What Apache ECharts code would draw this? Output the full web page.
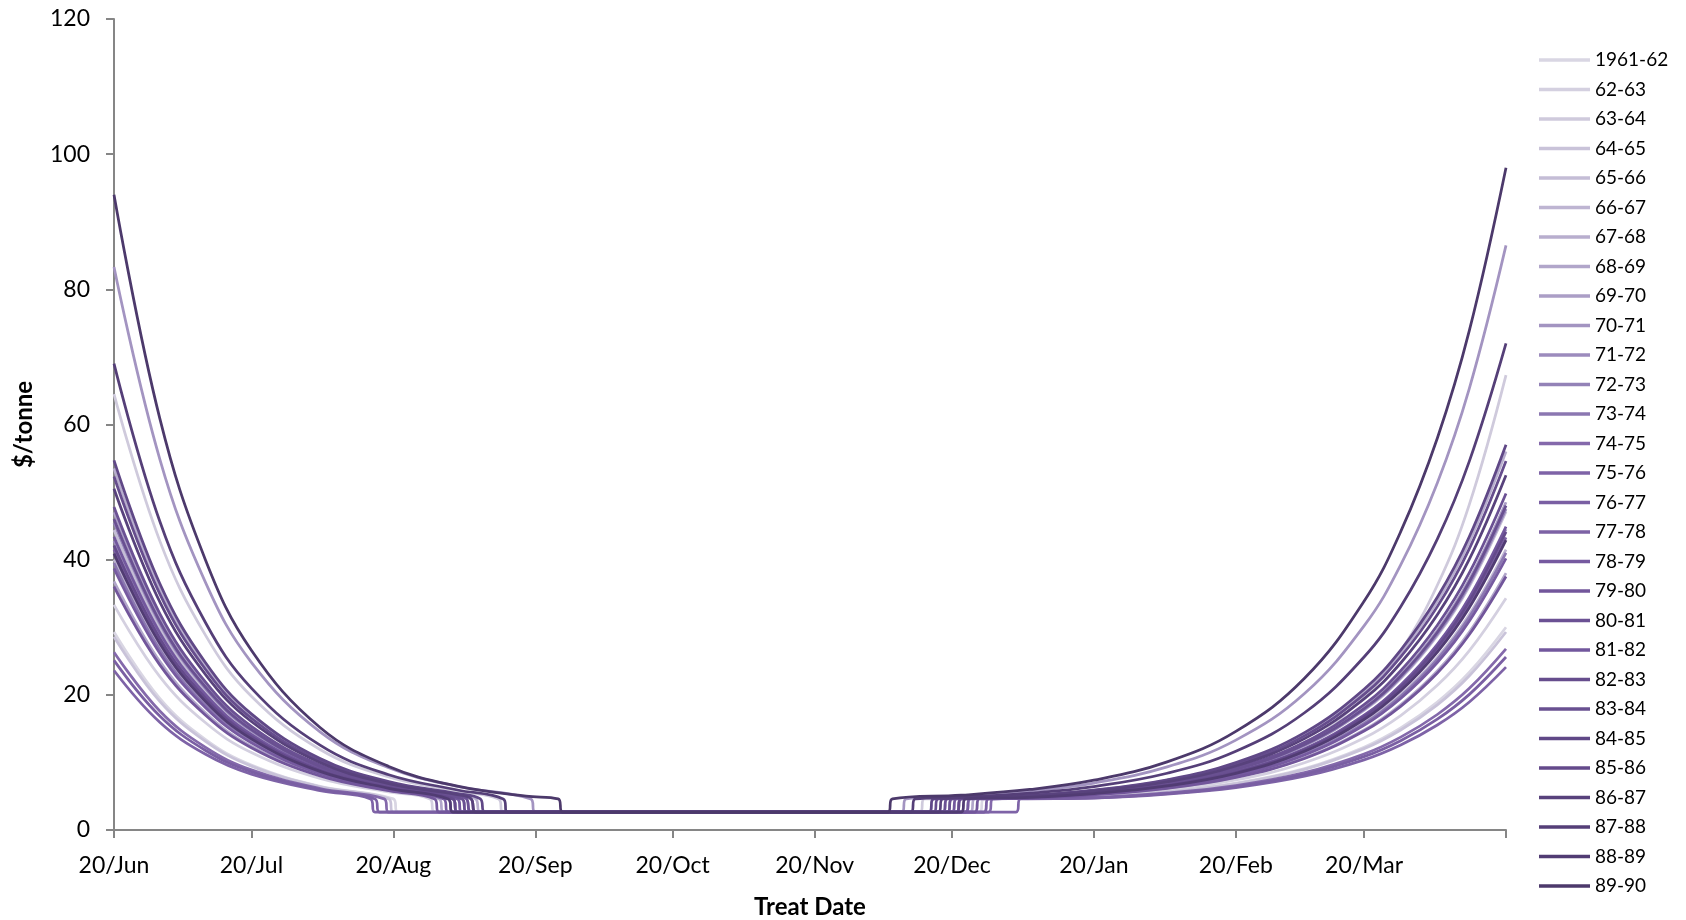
<!DOCTYPE html>
<html>
<head>
<meta charset="utf-8">
<script src="https://cdn.jsdelivr.net/npm/echarts@6/dist/echarts.min.js"></script>
<style>
html,body{margin:0;padding:0;background:#fff;}
#chart{width:1686px;height:920px;}
</style>
</head>
<body>
<div id="chart"></div>
<script>
// Season names (legend)
var seasons = ['1961-62','62-63','63-64','64-65','65-66','66-67','67-68','68-69','69-70','70-71','71-72','72-73','73-74','74-75','75-76','76-77','77-78','78-79','79-80','80-81','81-82','82-83','83-84','84-85','85-86','86-87','87-88','88-89','89-90'];

// X axis: days counted from 20/Jun, ticks on the 20th of each month
var tickDays = [0, 30, 61, 92, 122, 153, 183, 214, 245, 273, 304];
var tickLabels = ['20/Jun','20/Jul','20/Aug','20/Sep','20/Oct','20/Nov','20/Dec','20/Jan','20/Feb','20/Mar',''];

// Decline part (days after 20/Jun)
var leftDays = [0, 10, 20, 30, 45, 60, 75, 90];
var decayValues = [
  [29.3, 19.47, 13.38, 9.61, 6.47, null, null, null],
  [33.3, 22.69, 15.86, 11.46, 7.62, 5.63, null, null],
  [64.5, 42.78, 28.80, 19.79, 11.92, 7.86, 5.75, null],
  [28.6, 19.03, 13.11, 9.45, 6.39, null, null, null],
  [44.4, 29.84, 20.47, 14.42, 9.15, 6.42, null, null],
  [40.0, 27.01, 18.64, 13.25, 8.54, 6.11, null, null],
  [53.5, 35.70, 24.24, 16.86, 10.41, 7.07, 5.35, null],
  [36.8, 24.95, 17.31, 12.39, 8.10, 5.88, null, null],
  [47.0, 31.51, 21.54, 15.12, 9.51, 6.61, 5.11, null],
  [83.3, 54.89, 36.60, 24.81, 14.52, 9.20, 6.44, null],
  [42.8, 28.81, 19.80, 14.00, 8.93, 6.31, null, null],
  [45.5, 30.55, 20.92, 14.72, 9.30, 6.50, null, null],
  [39.5, 26.68, 18.43, 13.12, 8.47, 6.07, null, null],
  [26.3, 17.61, 12.23, 8.90, 6.13, null, null, null],
  [23.6, 15.94, 11.20, 8.26, 5.82, null, null, null],
  [25.1, 16.87, 11.77, 8.62, 5.99, null, null, null],
  [41.5, 27.97, 19.26, 13.65, 8.75, 6.21, null, null],
  [38.7, 26.17, 18.10, 12.90, 8.36, 6.01, null, null],
  [36.0, 24.43, 16.98, 12.18, 7.99, 5.82, null, null],
  [47.8, 32.03, 21.88, 15.33, 9.62, 6.66, 5.13, null],
  [43.4, 29.20, 20.05, 14.16, 9.01, 6.35, null, null],
  [52.3, 34.93, 23.74, 16.53, 10.24, 6.98, 5.30, null],
  [46.0, 30.87, 21.13, 14.85, 9.37, 6.53, null, null],
  [54.7, 36.47, 24.74, 17.18, 10.57, 7.16, 5.39, null],
  [42.1, 28.36, 19.51, 13.81, 8.83, 6.26, null, null],
  [50.5, 33.77, 23.00, 16.05, 9.99, 6.86, 5.23, null],
  [69.0, 45.68, 30.67, 21.00, 12.55, 8.18, 5.92, null],
  [40.9, 27.59, 19.01, 13.49, 8.67, 6.17, null, null],
  [94.0, 60.91, 39.93, 26.61, 15.17, 9.40, 6.49, 5.01]
];
// Day on which each season drops to the floor, and day it leaves the floor
var cutoffDays = [61, 69, 84, 60, 75, 73, 79, 71, 77, 91, 74, 76, 73, 59, 56, 57, 74, 72, 70, 77, 75, 78, 76, 80, 74, 78, 85, 73, 97];
var riseDays   = [189, 188, 176, 190, 183, 185, 178, 187, 181, 172, 184, 182, 186, 191, 197, 190, 184, 186, 188, 181, 183, 179, 182, 178, 184, 180, 174, 185, 169];
var floorValue = 2.65;
var edgeValue = 4.6;

// Rising part
var rightDays = [185, 200, 214, 230, 245, 260, 273, 281, 289, 296, 304];
var riseValues = [
  [null, null, 4.93, 5.68, 6.93, 9.10, 12.26, 15.10, 18.93, 23.34, 30.0],
  [null, 4.65, 5.08, 5.96, 7.41, 9.95, 13.62, 16.94, 21.40, 26.54, 34.3],
  [null, 4.70, 5.10, 6.27, 8.45, 12.74, 19.70, 26.47, 36.22, 48.18, 67.3],
  [null, null, 4.91, 5.64, 6.85, 8.97, 12.04, 14.80, 18.52, 22.82, 29.3],
  [null, 4.92, 5.54, 6.79, 8.86, 12.46, 17.69, 22.40, 28.74, 36.06, 47.1],
  [null, 4.80, 5.34, 6.43, 8.23, 11.36, 15.91, 20.01, 25.53, 31.89, 41.5],
  [null, 5.11, 5.86, 7.36, 9.86, 14.21, 20.52, 26.20, 33.85, 42.68, 56.0],
  [null, 4.72, 5.22, 6.20, 7.83, 10.67, 14.80, 18.52, 23.52, 29.29, 38.0],
  [null, 4.95, 5.59, 6.88, 9.02, 12.74, 18.13, 23.00, 29.55, 37.10, 48.5],
  [5.01, 5.76, 6.95, 9.34, 13.30, 20.19, 30.20, 39.23, 51.36, 65.36, 86.5],
  [null, 4.86, 5.45, 6.62, 8.56, 11.95, 16.86, 21.29, 27.25, 34.12, 44.5],
  [null, 4.93, 5.56, 6.81, 8.90, 12.54, 17.82, 22.57, 28.97, 36.36, 47.5],
  [null, 4.79, 5.32, 6.39, 8.17, 11.26, 15.75, 19.80, 25.24, 31.52, 41.0],
  [null, null, 4.82, 5.48, 6.57, 8.48, 11.24, 13.74, 17.09, 20.96, 26.8],
  [null, null, 4.72, 5.30, 6.27, 7.95, 10.38, 12.58, 15.54, 18.95, 24.1],
  [null, null, 4.77, 5.40, 6.43, 8.24, 10.86, 13.22, 16.40, 20.07, 25.6],
  [null, 4.84, 5.41, 6.54, 8.43, 11.71, 16.48, 20.78, 26.56, 33.23, 43.3],
  [null, 4.77, 5.30, 6.34, 8.08, 11.11, 15.50, 19.46, 24.78, 30.93, 40.2],
  [null, 4.71, 5.20, 6.17, 7.78, 10.58, 14.64, 18.30, 23.23, 28.92, 37.5],
  [null, 4.98, 5.64, 6.96, 9.16, 12.99, 18.55, 23.56, 30.29, 38.07, 49.8],
  [null, 4.87, 5.46, 6.65, 8.61, 12.03, 16.99, 21.46, 27.48, 34.42, 44.9],
  [null, 5.08, 5.81, 7.27, 9.70, 13.93, 20.07, 25.61, 33.05, 41.64, 54.6],
  [null, 4.94, 5.58, 6.85, 8.96, 12.64, 17.97, 22.79, 29.26, 36.73, 48.0],
  [null, 5.13, 5.90, 7.43, 9.97, 14.40, 20.83, 26.63, 34.43, 43.42, 57.0],
  [null, 4.85, 5.44, 6.59, 8.52, 11.87, 16.74, 21.12, 27.02, 33.83, 44.1],
  [null, 5.03, 5.74, 7.14, 9.47, 13.52, 19.40, 24.71, 31.84, 40.07, 52.5],
  [4.83, 5.45, 6.43, 8.40, 11.66, 17.35, 25.60, 33.04, 43.04, 54.58, 72.0],
  [null, 4.83, 5.39, 6.52, 8.38, 11.64, 16.35, 20.61, 26.33, 32.93, 42.9],
  [5.15, 6.00, 7.37, 10.08, 14.59, 22.45, 33.85, 44.14, 57.97, 73.92, 98.0]
];

var colors = ['#d9d6e3','#d4d0e0','#cfcadc','#c9c3d9','#c4bdd6','#beb5d2','#b8aece','#b1a6ca','#ab9ec6','#a394c1','#9c8bbd','#9382b7','#8b77b1','#8469ab','#7e63a7','#7a5fa3','#7d62a5','#765aa0','#72569b','#6b5194','#72579d','#664d8d','#695091','#604887','#644a8b','#58427c','#553f78','#513c73','#4c396b'];

var series = seasons.map(function (name, i) {
  var pts = [];
  leftDays.forEach(function (d, j) {
    var v = decayValues[i][j];
    if (v !== null && d < cutoffDays[i]) pts.push([d, v]);
  });
  pts.push([cutoffDays[i], edgeValue]);
  pts.push([cutoffDays[i] + 1, floorValue]);
  pts.push([riseDays[i], floorValue]);
  pts.push([riseDays[i] + 1, edgeValue]);
  rightDays.forEach(function (d, j) {
    var v = riseValues[i][j];
    if (v !== null && d > riseDays[i] + 1) pts.push([d, v]);
  });
  return {
    name: name,
    type: 'line',
    data: pts,
    smooth: 0.4,
    showSymbol: false,
    symbol: 'none',
    lineStyle: { width: 2.75, color: colors[i] },
    itemStyle: { color: colors[i] },
    emphasis: { disabled: true }
  };
});

var font = 'Lato, "Open Sans", sans-serif';
var chart = echarts.init(document.getElementById('chart'), null, { renderer: 'canvas' });
chart.setOption({
  animation: false,
  backgroundColor: '#ffffff',
  color: colors,
  grid: { left: 114, right: 180, top: 19, bottom: 90, containLabel: false, outerBoundsMode: 'none' },
  legend: {
    orient: 'vertical',
    left: 1534,
    top: 45,
    icon: 'rect',
    itemWidth: 51,
    itemHeight: 3.5,
    itemGap: 9.5,
    textStyle: { fontFamily: font, fontSize: 19, color: '#000', lineHeight: 20 },
    data: seasons
  },
  xAxis: {
    type: 'value',
    min: 0,
    max: 304,
    name: 'Treat Date',
    nameLocation: 'middle',
    nameGap: 65,
    nameTextStyle: { fontFamily: font, fontSize: 24, fontWeight: 'bold', color: '#000' },
    axisLine: { show: true, lineStyle: { color: '#868686', width: 2 } },
    axisTick: { show: true, length: 8, lineStyle: { color: '#868686', width: 2 }, customValues: tickDays },
    axisLabel: {
      customValues: tickDays,
      margin: 24,
      fontFamily: font, fontSize: 23, color: '#000',
      formatter: function (v) {
        var k = tickDays.indexOf(Math.round(v));
        return k >= 0 ? tickLabels[k] : '';
      }
    },
    splitLine: { show: false }
  },
  yAxis: {
    type: 'value',
    min: 0,
    max: 120,
    interval: 20,
    name: '$/tonne',
    nameLocation: 'middle',
    nameRotate: 90,
    nameGap: 78,
    nameTextStyle: { fontFamily: font, fontSize: 24, fontWeight: 'bold', color: '#000' },
    axisLine: { show: true, lineStyle: { color: '#868686', width: 2 } },
    axisTick: { show: true, length: 8, lineStyle: { color: '#868686', width: 2 } },
    axisLabel: { margin: 24, fontFamily: font, fontSize: 23, color: '#000' },
    splitLine: { show: false }
  },
  series: series
});
</script>
</body>
</html>
